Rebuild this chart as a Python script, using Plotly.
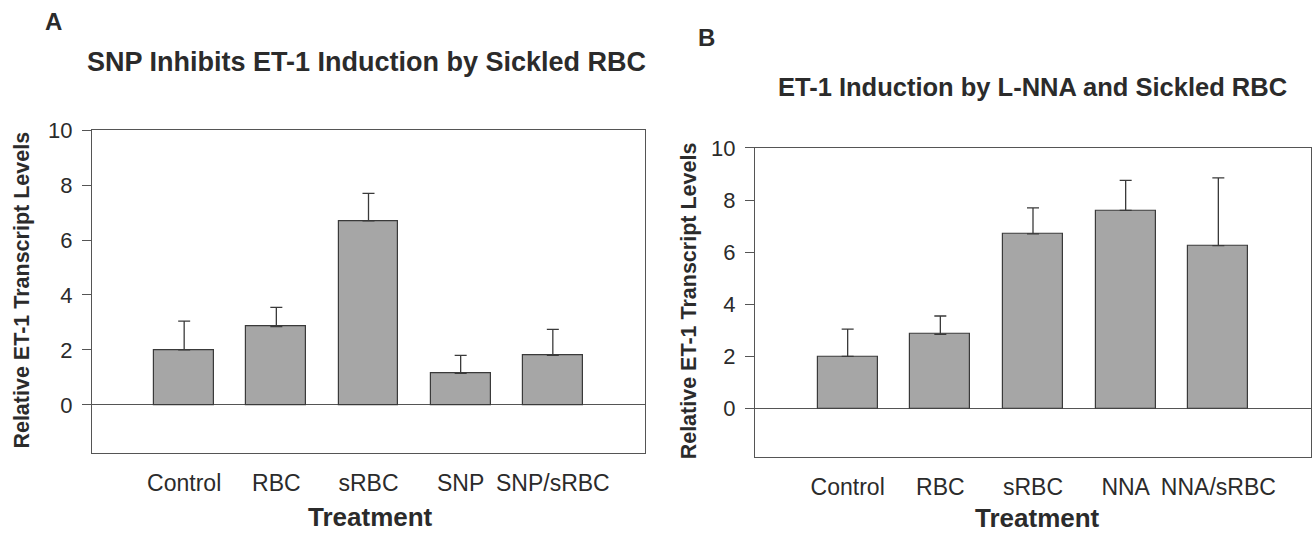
import plotly.graph_objects as go

# ---- data ----
cats_a = ["Control", "RBC", "sRBC", "SNP", "SNP/sRBC"]
vals_a = [2.0, 2.85, 6.7, 1.15, 1.8]
err_a = [1.05, 0.7, 1.0, 0.65, 0.95]

cats_b = ["Control", "RBC", "sRBC", "NNA", "NNA/sRBC"]
vals_b = [2.0, 2.85, 6.7, 7.6, 6.25]
err_b = [1.05, 0.7, 1.0, 1.15, 2.6]

pos = [1, 2, 3, 4, 5]
yticks = [0, 2, 4, 6, 8, 10]

title_a = "SNP Inhibits ET-1 Induction by Sickled RBC"
title_b = "ET-1 Induction by L-NNA and Sickled RBC"
ytitle = "Relative ET-1 Transcript Levels"
xtitle = "Treatment"

W, H = 1313, 533
def px(x):
    return x / W
def py(y):
    return 1 - y / H

FONT = "Liberation Sans, Arial, Helvetica, sans-serif"
TXT = "#2b2b2b"
LINE = "#555555"
BAR = "#a6a6a6"

fig = go.Figure()

def add_bars(cats, vals, errs, xa, ya):
    fig.add_trace(go.Bar(
        x=pos, y=vals, width=0.65,
        marker=dict(color=BAR, line=dict(color="#3a3a3a", width=1.2)),
        error_y=dict(type="data", array=errs, arrayminus=[0]*len(errs), symmetric=False,
                     color="#3a3a3a", thickness=1.3, width=6),
        xaxis=xa, yaxis=ya, showlegend=False,
    ))

add_bars(cats_a, vals_a, err_a, "x", "y")
add_bars(cats_b, vals_b, err_b, "x2", "y2")

common_x = dict(range=[0, 6], showline=True, mirror=True, linecolor=LINE, linewidth=1.3,
                ticks="outside", ticklen=9, tickcolor="rgba(0,0,0,0)",
                tickvals=pos, showgrid=False, zeroline=False,
                tickfont=dict(family=FONT, size=23, color=TXT))
common_y = dict(showline=True, mirror=True, linecolor=LINE, linewidth=1.3,
                ticks="outside", ticklen=9, tickcolor=LINE, tickwidth=1.2,
                ticklabelstandoff=5,
                tickvals=yticks, showgrid=False, zeroline=True, zerolinecolor=LINE,
                zerolinewidth=1.3, tickfont=dict(family=FONT, size=22, color=TXT))

fig.update_layout(
    width=W, height=H, margin=dict(l=0, r=0, t=0, b=0),
    paper_bgcolor="white", plot_bgcolor="white", bargap=0,
    xaxis=dict(common_x, domain=[px(92), px(645)], ticktext=cats_a, anchor="y"),
    yaxis=dict(common_y, domain=[py(451), py(121)], range=[-1.75, 10], anchor="x"),
    xaxis2=dict(common_x, domain=[px(755), px(1311)], ticktext=cats_b, anchor="y2"),
    yaxis2=dict(common_y, domain=[py(455), py(139)], range=[-1.85, 10], anchor="x2"),
)

ann = [
    dict(text="<b>A</b>", x=px(53), y=py(10), size=24),
    dict(text="<b>B</b>", x=px(706), y=py(26), size=24),
    dict(text="<b>" + title_a + "</b>", x=px(366), y=py(51), size=27),
    dict(text="<b>" + title_b + "</b>", x=px(1032), y=py(77), size=25.5),
    dict(text="<b>" + xtitle + "</b>", x=px(370), y=py(517), size=26),
    dict(text="<b>" + xtitle + "</b>", x=px(1037), y=py(518), size=26),
]
for a in ann:
    fig.add_annotation(text=a["text"], x=a["x"], y=a["y"], xref="paper", yref="paper",
                       showarrow=False, xanchor="center", yanchor="middle",
                       font=dict(family=FONT, size=a["size"], color=TXT))
for xx, yy in [(22, 285), (689, 296)]:
    fig.add_annotation(text="<b>" + ytitle + "</b>", x=px(xx), y=py(yy), xref="paper", yref="paper",
                       showarrow=False, textangle=-90, xanchor="center", yanchor="middle",
                       font=dict(family=FONT, size=21.5, color=TXT))

fig.write_html(
    "out.html",
    config={"displayModeBar": False},
    post_script="document.body.style.margin='0';document.body.style.overflow='hidden';",
)
